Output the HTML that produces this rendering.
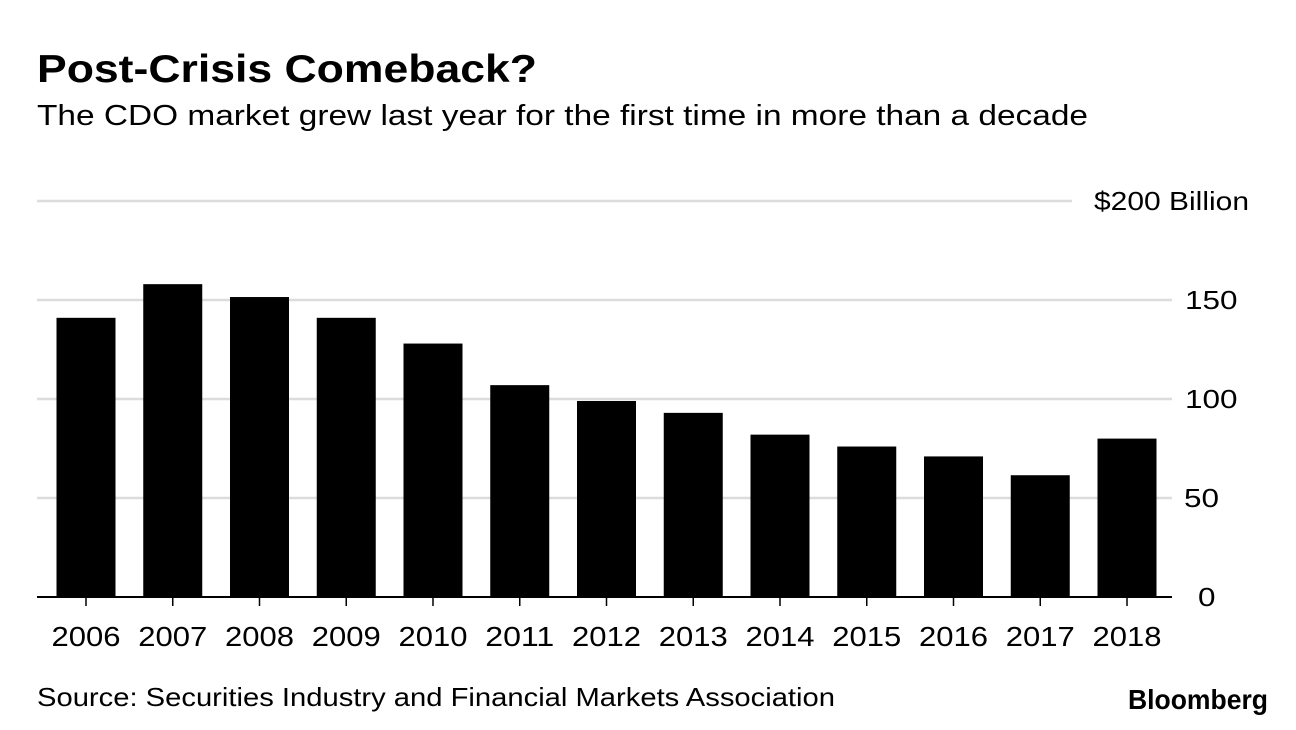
<!DOCTYPE html>
<html><head><meta charset="utf-8"><style>
html,body{margin:0;padding:0;background:#fff;}
svg{display:block;font-family:"Liberation Sans",Arial,sans-serif;}
</style></head><body>
<svg id="chart" width="1296" height="730" viewBox="0 0 1296 730">
<text x="37" y="82" font-size="39" font-weight="bold" fill="#000" textLength="500" lengthAdjust="spacingAndGlyphs">Post-Crisis Comeback?</text>
<text x="37" y="125" font-size="29" fill="#000" textLength="1051" lengthAdjust="spacingAndGlyphs">The CDO market grew last year for the first time in more than a decade</text>
<g id="grid"></g>
<g id="bars"></g>
<g id="xlabels"></g>
<line x1="37" x2="1172" y1="597" y2="597" stroke="#000" stroke-width="2"/>
<text x="37" y="706" font-size="26" fill="#000" textLength="798" lengthAdjust="spacingAndGlyphs">Source: Securities Industry and Financial Markets Association</text>
<text x="1128" y="709" font-size="28" font-weight="bold" fill="#000" textLength="140" lengthAdjust="spacingAndGlyphs">Bloomberg</text>
</svg>
<script>
const categories=["2006","2007","2008","2009","2010","2011","2012","2013","2014","2015","2016","2017","2018"];
const values=[141,158,151.5,141,128,107,99,93,82,76,71,61.5,80];
const yTicks=[0,50,100,150,200];
const yTickLabels=["0","50","100","150","$200 Billion"];
const ns="http://www.w3.org/2000/svg";
const y0=597,yPer=1.98;
function y(v){return y0-v*yPer;}
function x(i){return 86+i*86.75;}
const bw=59;
const grid=document.getElementById('grid');
yTicks.forEach((t,i)=>{
  if(t>0){
    const l=document.createElementNS(ns,'line');
    
    
    l.setAttribute('x1',37);l.setAttribute('x2',t===200?1072:1172);
    l.setAttribute('y1',y(t));l.setAttribute('y2',y(t));
    l.setAttribute('stroke','#dcdcdc');l.setAttribute('stroke-width','2.5');
    grid.appendChild(l);
  }
  const tx=document.createElementNS(ns,'text');
  
  
  const lbl=yTickLabels[i];
  let x0=t===200?1094:(t>=100?1185:(t>0?1184:1198));
  tx.setAttribute('x',x0);
  tx.setAttribute('y',y(t)+9);
  tx.setAttribute('font-size','26');
  tx.setAttribute('textLength',t===200?155:lbl.length*17.5);
  tx.setAttribute('lengthAdjust','spacingAndGlyphs');
  tx.textContent=lbl;
  grid.appendChild(tx);
});
const bars=document.getElementById('bars'),xl=document.getElementById('xlabels');
categories.forEach((c,i)=>{
  const r=document.createElementNS(ns,'rect');
  
  
  r.setAttribute('x',x(i)-bw/2);r.setAttribute('width',bw);
  r.setAttribute('y',y(values[i]));r.setAttribute('height',y0-y(values[i]));
  r.setAttribute('fill','#000');
  bars.appendChild(r);
  const tk=document.createElementNS(ns,'line');
  
  
  tk.setAttribute('x1',x(i));tk.setAttribute('x2',x(i));
  tk.setAttribute('y1',597);tk.setAttribute('y2',606);
  tk.setAttribute('stroke','#000');tk.setAttribute('stroke-width','1.5');
  xl.appendChild(tk);
  const t=document.createElementNS(ns,'text');
  
  
  t.setAttribute('x',x(i)-34.5);t.setAttribute('y',646);
  t.setAttribute('font-size','28');
  t.setAttribute('textLength','69');
  t.setAttribute('lengthAdjust','spacingAndGlyphs');
  t.textContent=c;
  xl.appendChild(t);
});
</script>
</body></html>
